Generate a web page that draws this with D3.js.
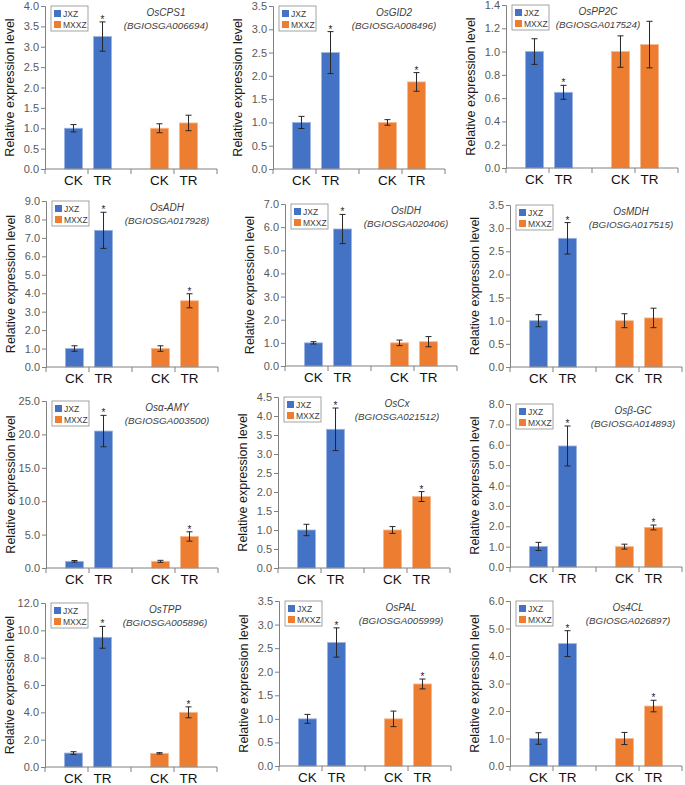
<!DOCTYPE html>
<html>
<head>
<meta charset="utf-8">
<script src="https://cdn.jsdelivr.net/npm/d3@7"></script>
<style>
  body { margin: 0; background: #fff; }
  svg { display: block; font-family: "Liberation Sans", Arial, sans-serif; }
</style>
</head>
<body>
<svg id="chart"></svg>
<script>
// gene panels, left to right, top to bottom
var genes = ["OsCPS1", "OsGID2", "OsPP2C", "OsADH", "OsIDH", "OsMDH",
	"Osα-AMY", "OsCx", "Osβ-GC", "OsTPP", "OsPAL", "Os4CL"];
var geneIds = ["BGIOSGA006694", "BGIOSGA008496", "BGIOSGA017524", "BGIOSGA017928",
	"BGIOSGA020406", "BGIOSGA017515", "BGIOSGA003500", "BGIOSGA021512",
	"BGIOSGA014893", "BGIOSGA005896", "BGIOSGA005999", "BGIOSGA026897"];
var varieties = ["JXZ", "MXXZ"];
var treatments = ["CK", "TR"];

// y axis ranges
var yMax  = [4.0, 3.5, 1.4, 9.0, 7.0, 3.5, 25.0, 4.5, 8.0, 12.0, 3.5, 6.0];
var yStep = [0.5, 0.5, 0.2, 1.0, 1.0, 0.5, 5.0, 0.5, 1.0, 2.0, 0.5, 1.0];

// means
var jxzCK  = [1.0, 1.0, 1.0, 1.0, 1.0, 1.0, 1.0, 1.0, 1.01, 1.02, 1.0, 1.0];
var jxzTR  = [3.25, 2.5, 0.65, 7.41, 5.92, 2.78, 20.5, 3.65, 5.94, 9.49, 2.62, 4.45];
var mxxzCK = [1.0, 1.0, 1.0, 1.0, 1.0, 1.0, 1.0, 1.0, 1.0, 1.0, 1.0, 1.0];
var mxxzTR = [1.13, 1.87, 1.06, 3.59, 1.05, 1.06, 4.72, 1.88, 1.94, 4.0, 1.74, 2.18];

// error bars (+/-)
var jxzCKErr  = [0.09, 0.13, 0.11, 0.15, 0.05, 0.13, 0.12, 0.15, 0.2, 0.1, 0.095, 0.21];
var jxzTRErr  = [0.36, 0.45, 0.06, 0.98, 0.63, 0.34, 2.35, 0.56, 0.98, 0.8, 0.31, 0.47];
var mxxzCKErr = [0.11, 0.06, 0.135, 0.15, 0.12, 0.15, 0.15, 0.09, 0.12, 0.05, 0.165, 0.22];
var mxxzTRErr = [0.19, 0.2, 0.2, 0.38, 0.22, 0.21, 0.7, 0.13, 0.12, 0.4, 0.105, 0.21];

// significance stars
var jxzTRSig  = [true, true, true, true, true, true, true, true, true, true, true, true];
var mxxzTRSig = [false, true, false, true, false, false, true, true, true, true, true, true];

var colors = {
	"JXZ" : "#4472c4",
	"MXXZ" : "#ed7d31"
};
var edges = {
	"JXZ" : "#9db5e0",
	"MXXZ" : "#f6b88e"
};

// panel placement: axis x, plot top, plot bottom, title centre offset
var layout = [
	[45, 6, 169, 121], [273, 6, 169, 121], [506, 5, 168, 92],
	[46, 201, 367, 121], [285, 204, 366, 121], [510, 205, 367, 121],
	[46, 401, 568, 121], [278, 397, 568, 119], [510, 404, 567, 123],
	[45, 603, 767, 120], [279, 601, 766, 122], [510, 601, 766, 118]
];

var W = 685, H = 785;
var plotW = 172;

var svg = d3.select("#chart")
	.attr("width", W)
	.attr("height", H);

genes.forEach(function(gene, i) {
	var L = layout[i];
	var top = L[1], bottom = L[2];
	var g = svg.append("g").attr("transform", "translate(" + L[0] + ",0)");

	var y = d3.scaleLinear().domain([0, yMax[i]]).range([bottom, top]);
	var outer = d3.scaleBand().domain(varieties).range([0, plotW]);
	var inner = d3.scaleBand().domain(treatments)
		.range([0, outer.bandwidth()])
		.paddingInner(0.38)
		.paddingOuter(0.67);

	var rows = [
		{ v: "JXZ", t: "CK", m: jxzCK[i], e: jxzCKErr[i], s: false },
		{ v: "JXZ", t: "TR", m: jxzTR[i], e: jxzTRErr[i], s: jxzTRSig[i] },
		{ v: "MXXZ", t: "CK", m: mxxzCK[i], e: mxxzCKErr[i], s: false },
		{ v: "MXXZ", t: "TR", m: mxxzTR[i], e: mxxzTRErr[i], s: mxxzTRSig[i] }
	];
	function cx(d) { return outer(d.v) + inner(d.t) + inner.bandwidth() / 2; }

	// y axis
	var ticks = d3.range(0, yMax[i] + yStep[i] / 2, yStep[i]);
	var ya = g.append("g")
		.call(d3.axisLeft(y).tickValues(ticks).tickFormat(d3.format(".1f"))
			.tickSize(4).tickPadding(2));
	ya.select(".domain").attr("stroke", "#808080");
	ya.selectAll(".tick line").attr("stroke", "#808080");
	ya.selectAll(".tick text")
		.attr("fill", "#595959")
		.attr("font-size", "11px")
		.attr("font-family", "Liberation Sans, Arial, sans-serif");

	// y title
	g.append("text")
		.attr("transform", "translate(-31," + ((top + bottom) / 2) + ") rotate(-90)")
		.attr("text-anchor", "middle")
		.attr("font-size", "12.5px")
		.attr("fill", "#1a1a1a")
		.text("Relative expression level");

	// bars
	g.selectAll("rect.bar")
		.data(rows)
		.enter().append("rect")
		.attr("class", "bar")
		.attr("x", function(d) { return outer(d.v) + inner(d.t); })
		.attr("width", inner.bandwidth())
		.attr("y", function(d) { return y(d.m); })
		.attr("height", function(d) { return y(0) - y(d.m); })
		.attr("fill", function(d) { return colors[d.v]; })
		.attr("stroke", function(d) { return edges[d.v]; })
		.attr("stroke-width", 0.8);

	// x axis
	var xTicks = [0, outer("JXZ") + outer.bandwidth() / 2, outer("MXXZ"),
		outer("MXXZ") + outer.bandwidth() / 2, plotW];
	g.append("line")
		.attr("x1", 0).attr("x2", plotW)
		.attr("y1", y(0)).attr("y2", y(0))
		.attr("stroke", "#808080");
	g.selectAll("line.xt")
		.data(xTicks)
		.enter().append("line")
		.attr("class", "xt")
		.attr("x1", function(d) { return d; })
		.attr("x2", function(d) { return d; })
		.attr("y1", y(0)).attr("y2", y(0) + 5)
		.attr("stroke", "#808080");
	g.selectAll("text.xl")
		.data(rows)
		.enter().append("text")
		.attr("class", "xl")
		.attr("x", cx)
		.attr("y", y(0) + 16)
		.attr("text-anchor", "middle")
		.attr("font-size", "13.5px")
		.attr("fill", "#111")
		.text(function(d) { return d.t; });

	// error bars
	var eb = g.selectAll("g.err")
		.data(rows)
		.enter().append("g")
		.attr("class", "err")
		.attr("stroke", "#262626")
		.attr("stroke-width", 1);
	eb.append("line")
		.attr("x1", cx).attr("x2", cx)
		.attr("y1", function(d) { return y(d.m + d.e); })
		.attr("y2", function(d) { return y(d.m - d.e); });
	eb.append("line")
		.attr("x1", function(d) { return cx(d) - 3; })
		.attr("x2", function(d) { return cx(d) + 3; })
		.attr("y1", function(d) { return y(d.m + d.e); })
		.attr("y2", function(d) { return y(d.m + d.e); });
	eb.append("line")
		.attr("x1", function(d) { return cx(d) - 3; })
		.attr("x2", function(d) { return cx(d) + 3; })
		.attr("y1", function(d) { return y(d.m - d.e); })
		.attr("y2", function(d) { return y(d.m - d.e); });

	// stars
	g.selectAll("text.star")
		.data(rows.filter(function(d) { return d.s; }))
		.enter().append("text")
		.attr("class", "star")
		.attr("x", cx)
		.attr("y", function(d) { return y(d.m + d.e) + 1; })
		.attr("text-anchor", "middle")
		.attr("font-size", "10px")
		.attr("fill", "#262626")
		.text("*");

	// gene title
	g.append("text")
		.attr("x", L[3]).attr("y", top + 9.5)
		.attr("text-anchor", "middle")
		.attr("font-size", "10px")
		.attr("font-style", "italic")
		.attr("fill", "#404040")
		.text(gene);
	g.append("text")
		.attr("x", L[3]).attr("y", top + 22.5)
		.attr("text-anchor", "middle")
		.attr("font-size", "9.8px")
		.attr("font-style", "italic")
		.attr("fill", "#404040")
		.text("(" + geneIds[i] + ")");

	// legend
	var lg = g.append("g").attr("transform", "translate(6," + top + ")");
	lg.append("rect")
		.attr("width", 37).attr("height", 25)
		.attr("fill", "#fff")
		.attr("stroke", "#8c8c8c")
		.attr("stroke-width", 0.8);
	varieties.forEach(function(v, k) {
		lg.append("rect")
			.attr("x", 3).attr("y", 4 + k * 11)
			.attr("width", 7).attr("height", 7)
			.attr("fill", colors[v]);
		lg.append("text")
			.attr("x", 12).attr("y", 10.5 + k * 11)
			.attr("font-size", "8.5px")
			.attr("fill", "#404040")
			.text(v);
	});
});
</script>
</body>
</html>
